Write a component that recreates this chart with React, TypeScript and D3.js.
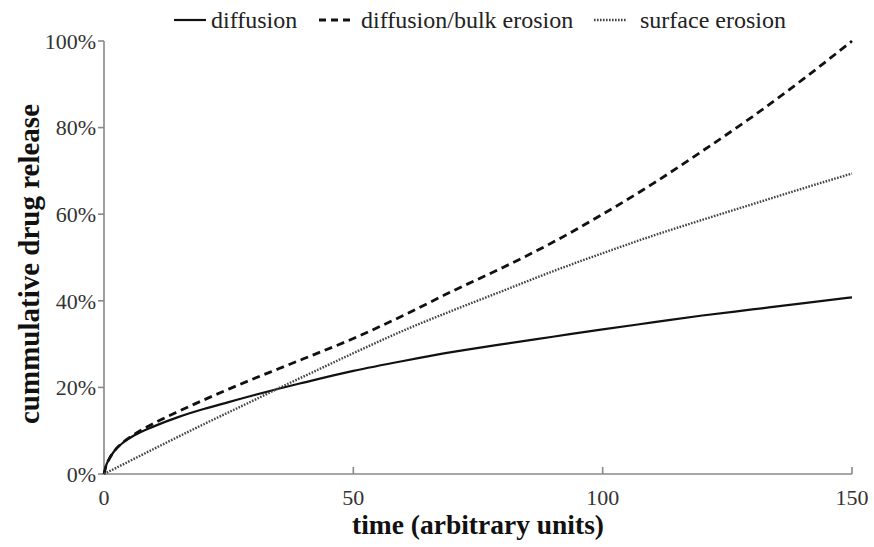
import React from "react";
import * as d3 from "d3";

// Time points (arbitrary units) and cumulative release (%) for each mechanism
const diffusionT = [0, 0.5, 1, 2, 4, 6, 10, 15, 20, 25, 30, 35, 40, 50, 60, 70, 80, 90, 100, 110, 120, 130, 140, 150];
const diffusionV = [0, 2.2, 3.4, 5.2, 7.4, 8.9, 11.0, 13.2, 15.0, 16.6, 18.2, 19.7, 21.1, 23.8, 26.1, 28.2, 30.0, 31.7, 33.4, 35.0, 36.6, 38.0, 39.4, 40.8];

const bulkT = [0, 0.5, 1, 2, 4, 6, 10, 15, 20, 25, 30, 35, 40, 50, 60, 70, 80, 90, 100, 110, 120, 130, 140, 150];
const bulkV = [0, 2.2, 3.4, 5.2, 7.5, 9.1, 11.7, 14.5, 17.1, 19.6, 22.0, 24.3, 26.6, 31.3, 36.6, 42.3, 47.7, 53.5, 60.0, 67.0, 74.6, 82.5, 91.0, 100];

const surfaceT = [0, 5, 10, 20, 30, 35, 40, 50, 60, 70, 80, 90, 100, 110, 120, 130, 140, 150];
const surfaceV = [0, 2.9, 5.8, 11.5, 17.0, 19.8, 22.5, 27.9, 33.1, 37.8, 42.3, 46.8, 51.0, 55.0, 58.7, 62.3, 65.9, 69.4];

const xTicks = [0, 50, 100, 150];
const yTicks = [0, 20, 40, 60, 80, 100];

const legendLabels = ["diffusion", "diffusion/bulk erosion", "surface erosion"];

const W = 874;
const H = 547;

const x = d3.scaleLinear().domain([0, 150]).range([104, 852]);
const y = d3.scaleLinear().domain([0, 100]).range([474, 41]);

const toPoints = (ts: number[], vs: number[]) => ts.map((t, i) => [t, vs[i]] as [number, number]);

const line = d3
  .line<[number, number]>()
  .x((d) => x(d[0]))
  .y((d) => y(d[1]))
  .curve(d3.curveMonotoneX);

const serif = "'Liberation Serif', 'Times New Roman', serif";

const styles = [
  { stroke: "#111", width: 2.2, dash: "none" },
  { stroke: "#111", width: 2.8, dash: "8,5" },
  { stroke: "#444", width: 2.4, dash: "1.6,1.4" },
];

export default function App() {
  const series = [
    toPoints(diffusionT, diffusionV),
    toPoints(bulkT, bulkV),
    toPoints(surfaceT, surfaceV),
  ];

  const legendItems = [
    { lx: 174, tx: 211 },
    { lx: 319, tx: 361 },
    { lx: 594, tx: 640 },
  ];

  return (
    <div style={{ position: "fixed", left: 0, top: 0 }}>
      <svg width={W} height={H} style={{ display: "block", background: "#fff" }}>
        {/* legend */}
        {legendLabels.map((lab, i) => (
          <g key={lab}>
            <line
              x1={legendItems[i].lx}
              x2={legendItems[i].lx + 32}
              y1={20}
              y2={20}
              stroke={styles[i].stroke}
              strokeWidth={styles[i].width}
              strokeDasharray={i === 1 ? "7,5" : styles[i].dash}
            />
            <text x={legendItems[i].tx} y={28} fontFamily={serif} fontSize={24} fill="#222">
              {lab}
            </text>
          </g>
        ))}

        {/* y axis */}
        <line x1={x(0)} x2={x(0)} y1={y(0)} y2={y(100)} stroke="#888" strokeWidth={1.6} />
        {yTicks.map((v) => (
          <g key={v}>
            <line x1={x(0) - 6} x2={x(0)} y1={y(v)} y2={y(v)} stroke="#888" strokeWidth={1.6} />
            <text
              x={x(0) - 8}
              y={y(v)}
              dy="0.35em"
              textAnchor="end"
              fontFamily={serif}
              fontSize={22}
              fill="#333"
            >
              {v}%
            </text>
          </g>
        ))}

        {/* x axis */}
        <line x1={x(0)} x2={x(150)} y1={y(0)} y2={y(0)} stroke="#888" strokeWidth={1.6} />
        {xTicks.map((t) => (
          <g key={t}>
            {t > 0 && (
              <line x1={x(t)} x2={x(t)} y1={y(0)} y2={y(0) - 7} stroke="#888" strokeWidth={1.6} />
            )}
            <text x={x(t)} y={y(0) + 31} textAnchor="middle" fontFamily={serif} fontSize={22} fill="#333">
              {t}
            </text>
          </g>
        ))}

        {/* axis titles */}
        <text
          transform={`translate(39,264) rotate(-90)`}
          textAnchor="middle"
          fontFamily={serif}
          fontSize={29}
          fontWeight="bold"
          fill="#111"
        >
          cummulative drug release
        </text>
        <text x={478} y={534} textAnchor="middle" fontFamily={serif} fontSize={27.5} fontWeight="bold" fill="#111">
          time (arbitrary units)
        </text>

        {/* curves */}
        {series.map((pts, i) => (
          <path
            key={i}
            d={line(pts) ?? ""}
            fill="none"
            stroke={styles[i].stroke}
            strokeWidth={styles[i].width}
            strokeDasharray={styles[i].dash}
          />
        ))}
      </svg>
    </div>
  );
}
